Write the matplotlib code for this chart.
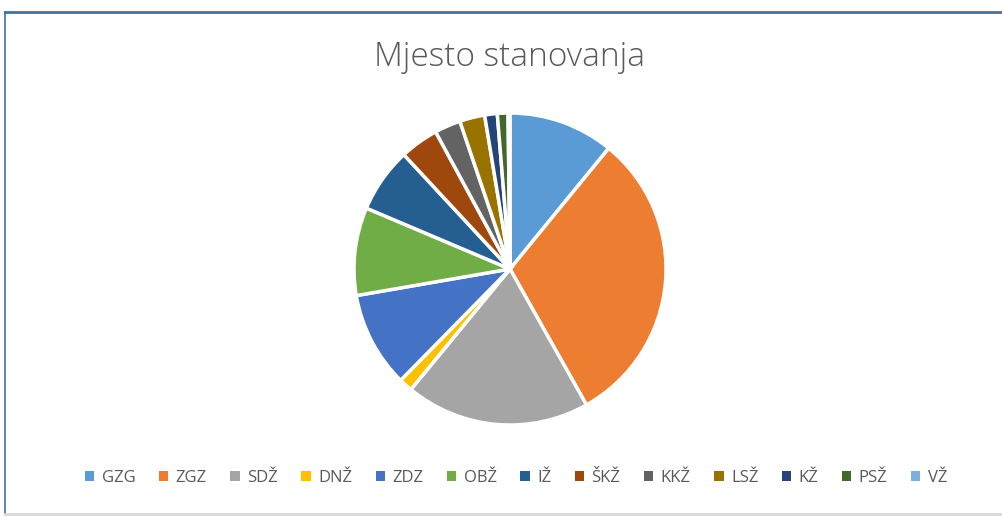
import matplotlib.pyplot as plt
from matplotlib.lines import Line2D
from matplotlib.patches import Patch

# Data (shares, in %)
labels = ["GZG", "ZGZ", "SDŽ", "DNŽ", "ZDZ", "OBŽ", "IŽ", "ŠKŽ", "KKŽ", "LSŽ", "KŽ", "PSŽ", "VŽ"]
values = [10.9, 30.9, 19.1, 1.4, 9.9, 9.1, 6.7, 4.0, 2.7, 2.6, 1.3, 1.1, 0.2]
colors = ["#5B9BD5", "#ED7D31", "#A5A5A5", "#FFC000", "#4472C4", "#70AD47",
          "#255E91", "#9E480E", "#636363", "#997300", "#264478", "#43682B", "#7CAFDD"]

W, H = 1003, 518
fig = plt.figure(figsize=(W / 100, H / 100), dpi=100)
fig.patch.set_facecolor("white")

# Pie axes placed around the centre of the chart
cx, cy, r = 510, 269, 156
ax = fig.add_axes([(cx - r) / W, (H - cy - r) / H, 2 * r / W, 2 * r / H])
ax.pie(values, colors=colors, startangle=90, counterclock=False,
       wedgeprops=dict(edgecolor="white", linewidth=2.5))
ax.set_xlim(-1.0, 1.0)
ax.set_ylim(-1.0, 1.0)
ax.set_aspect("equal")
ax.axis("off")

# Title
fig.text(cx / W, 1 - 57 / H, "Mjesto stanovanja", ha="center", va="center",
         fontsize=24, color="#595959", family="Open Sans", fontweight="light")

# Legend
handles = [Patch(facecolor=c, edgecolor="none") for c in colors]
fig.legend(handles, labels, loc="center", bbox_to_anchor=(516 / W, 1 - 478 / H),
           ncol=len(labels), frameon=False, handlelength=0.55, handleheight=0.55,
           handletextpad=0.45, columnspacing=1.42,
           prop=dict(family="Open Sans", size=12), labelcolor="#595959")

# Chart border (top/left blue, bottom gray)
fig.add_artist(Line2D([5 / W, 1], [1 - 12 / H, 1 - 12 / H], color="#41719C", lw=2))
fig.add_artist(Line2D([5 / W, 5 / W], [1 - 12 / H, 1 - 514 / H], color="#41719C", lw=1.2))
fig.add_artist(Line2D([5 / W, 1], [1 - 514 / H, 1 - 514 / H], color="#D9D9D9", lw=2))

fig.savefig("out.png", dpi=100)
